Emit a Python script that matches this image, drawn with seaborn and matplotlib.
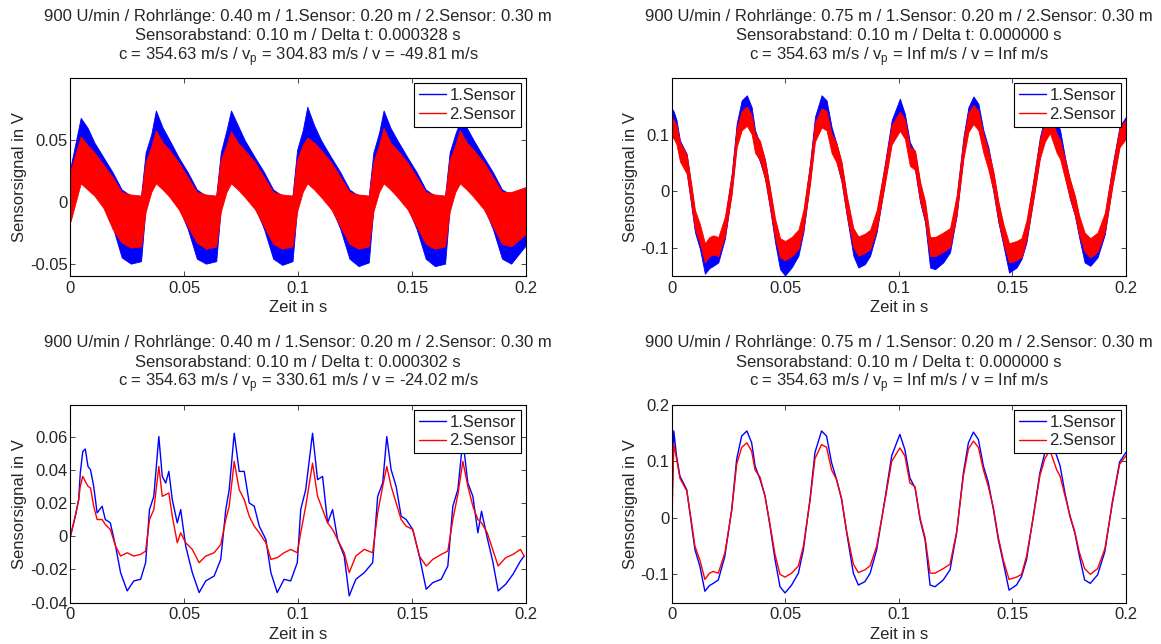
"""
Sensor signals of the two microphones, 2x2 comparison (MATLAB-style figure).
Top row: raw (noisy) signals drawn as min/max bands, bottom row: filtered signals.
"""
import matplotlib
matplotlib.use("Agg")
import matplotlib.pyplot as plt  # noqa: E402
from matplotlib.lines import Line2D  # noqa: E402
import seaborn as sns  # noqa: E402

BLUE = (0, 0, 1)
RED = (1, 0, 0)

# ---------------- shared text ----------------
sensor_labels = ["1.Sensor", "2.Sensor"]
x_label = "Zeit in s"
y_label = "Sensorsignal in V"
x_ticks = [0, 0.05, 0.1, 0.15, 0.2]
x_ticklabels = ["0", "0.05", "0.1", "0.15", "0.2"]

title_tl = ["900 U/min / Rohrlänge: 0.40 m / 1.Sensor: 0.20 m / 2.Sensor: 0.30 m",
            "Sensorabstand: 0.10 m / Delta t: 0.000328 s",
            r"c = 354.63 m/s / v$_\mathregular{p}$ = 304.83 m/s / v = -49.81 m/s"]
title_tr = ["900 U/min / Rohrlänge: 0.75 m / 1.Sensor: 0.20 m / 2.Sensor: 0.30 m",
            "Sensorabstand: 0.10 m / Delta t: 0.000000 s",
            r"c = 354.63 m/s / v$_\mathregular{p}$ = Inf m/s / v = Inf m/s"]
title_bl = ["900 U/min / Rohrlänge: 0.40 m / 1.Sensor: 0.20 m / 2.Sensor: 0.30 m",
            "Sensorabstand: 0.10 m / Delta t: 0.000302 s",
            r"c = 354.63 m/s / v$_\mathregular{p}$ = 330.61 m/s / v = -24.02 m/s"]
title_br = title_tr

# ---------------- top left: raw signal, 0.40 m (upper / lower noise envelope) ----------------
tl_t = [0,
        0.0045, 0.0075, 0.0105, 0.0145, 0.0185, 0.0225, 0.0265, 0.031, 0.033, 0.0355,
        0.0375, 0.0405, 0.0435, 0.0475, 0.0515, 0.0555, 0.0595, 0.064, 0.066, 0.0685,
        0.0705, 0.0735, 0.0765, 0.081, 0.085, 0.089, 0.093, 0.0975, 0.0995, 0.102,
        0.104, 0.107, 0.110, 0.1145, 0.1185, 0.1225, 0.1265, 0.131, 0.133, 0.1355,
        0.1375, 0.1405, 0.1435, 0.148, 0.152, 0.156, 0.160, 0.1645, 0.1665, 0.169,
        0.171, 0.174, 0.177, 0.1815, 0.1855, 0.1895, 0.1935, 0.2]
tl_s1_hi = [0.028,
            0.068, 0.060, 0.048, 0.036, 0.024, 0.010, 0.005, 0.005, 0.040, 0.055,
            0.074, 0.060, 0.050, 0.036, 0.024, 0.010, 0.005, 0.005, 0.040, 0.058,
            0.074, 0.062, 0.050, 0.036, 0.024, 0.010, 0.005, 0.005, 0.042, 0.058,
            0.077, 0.062, 0.050, 0.036, 0.024, 0.010, 0.005, 0.005, 0.040, 0.056,
            0.074, 0.060, 0.050, 0.036, 0.024, 0.010, 0.005, 0.005, 0.040, 0.055,
            0.065, 0.060, 0.050, 0.036, 0.024, 0.010, 0.006, 0.012]
tl_s1_lo = [0.004,
            0.020, 0.012, 0.007, -0.003, -0.020, -0.045, -0.050, -0.048, -0.004, 0.012,
            0.020, 0.012, 0.006, -0.004, -0.022, -0.046, -0.050, -0.048, -0.005, 0.012,
            0.020, 0.012, 0.006, -0.004, -0.022, -0.046, -0.051, -0.048, -0.005, 0.012,
            0.020, 0.012, 0.006, -0.004, -0.022, -0.046, -0.052, -0.049, -0.005, 0.012,
            0.020, 0.012, 0.006, -0.004, -0.022, -0.046, -0.052, -0.050, -0.005, 0.012,
            0.020, 0.012, 0.006, -0.004, -0.022, -0.046, -0.050, -0.035]
tl_s2_hi = [0.025,
            0.053, 0.046, 0.040, 0.030, 0.020, 0.008, 0.006, 0.005, 0.032, 0.045,
            0.058, 0.048, 0.042, 0.032, 0.020, 0.008, 0.006, 0.005, 0.034, 0.046,
            0.057, 0.048, 0.042, 0.032, 0.020, 0.008, 0.006, 0.005, 0.034, 0.046,
            0.052, 0.048, 0.042, 0.032, 0.020, 0.008, 0.006, 0.005, 0.032, 0.046,
            0.060, 0.048, 0.042, 0.032, 0.020, 0.008, 0.006, 0.005, 0.034, 0.046,
            0.058, 0.048, 0.042, 0.032, 0.020, 0.008, 0.008, 0.012]
tl_s2_lo = [-0.016,
            0.015, 0.010, 0.005, -0.005, -0.022, -0.033, -0.037, -0.036, -0.008, 0.008,
            0.015, 0.010, 0.004, -0.006, -0.020, -0.033, -0.038, -0.036, -0.008, 0.008,
            0.015, 0.010, 0.004, -0.006, -0.020, -0.034, -0.038, -0.036, -0.008, 0.008,
            0.015, 0.010, 0.004, -0.006, -0.020, -0.034, -0.038, -0.036, -0.008, 0.008,
            0.015, 0.010, 0.004, -0.006, -0.020, -0.034, -0.038, -0.036, -0.008, 0.008,
            0.015, 0.010, 0.004, -0.006, -0.020, -0.034, -0.036, -0.026]

# ---------------- bottom right: filtered signal, 0.75 m ----------------
br_t = [0.0, 0.0008, 0.002, 0.0035, 0.0065, 0.0087, 0.0101, 0.0123, 0.0145, 0.0165,
        0.0182, 0.0204, 0.0233, 0.0263, 0.0285, 0.0307, 0.033, 0.0351, 0.0366, 0.0388,
        0.041, 0.0432, 0.0454, 0.0476, 0.0498, 0.0527, 0.0557, 0.0579, 0.0608, 0.063,
        0.0659, 0.0681, 0.0703, 0.0725, 0.0747, 0.077, 0.0799, 0.0821, 0.085, 0.0873,
        0.0902, 0.0938, 0.0968, 0.1004, 0.1026, 0.1048, 0.1071, 0.1093, 0.1115, 0.1137,
        0.1159, 0.1195, 0.1225, 0.1254, 0.1284, 0.1306, 0.1328, 0.135, 0.1372, 0.1394,
        0.1416, 0.1438, 0.146, 0.1485, 0.1518, 0.154, 0.1562, 0.1592, 0.1621, 0.1643,
        0.1665, 0.1695, 0.171, 0.1731, 0.1753, 0.1775, 0.1794, 0.1818, 0.1843, 0.1875,
        0.1907, 0.194, 0.1972, 0.2]
br_s1 = [0.03, 0.154, 0.11, 0.074, 0.05, -0.015, -0.056, -0.086, -0.13, -0.12,
         -0.116, -0.11, -0.068, 0.015, 0.104, 0.145, 0.154, 0.133, 0.092, 0.068,
         0.039, -0.015, -0.074, -0.122, -0.133, -0.119, -0.098, -0.056, 0.033, 0.116,
         0.154, 0.145, 0.098, 0.068, 0.033, -0.027, -0.098, -0.119, -0.113, -0.098,
         -0.056, 0.033, 0.11, 0.148, 0.121, 0.071, 0.053, -0.003, -0.039, -0.119,
         -0.122, -0.11, -0.092, -0.027, 0.08, 0.133, 0.152, 0.139, 0.092, 0.062,
         0.015, -0.039, -0.08, -0.128, -0.119, -0.104, -0.074, 0.003, 0.08, 0.116,
         0.14, 0.11, 0.092, 0.045, 0.003, -0.027, -0.066, -0.11, -0.116, -0.101,
         -0.06, 0.028, 0.099, 0.116]
br_s2 = [0.0, 0.13, 0.105, 0.07, 0.048, -0.01, -0.05, -0.075, -0.109, -0.098,
         -0.095, -0.098, -0.062, 0.012, 0.095, 0.125, 0.133, 0.118, 0.085, 0.072,
         0.038, -0.012, -0.065, -0.1, -0.105, -0.098, -0.085, -0.05, 0.03, 0.105,
         0.13, 0.125, 0.085, 0.068, 0.035, -0.025, -0.082, -0.097, -0.092, -0.085,
         -0.05, 0.03, 0.1, 0.124, 0.11, 0.062, 0.055, 0.0, -0.035, -0.098,
         -0.098, -0.09, -0.082, -0.025, 0.075, 0.122, 0.136, 0.125, 0.085, 0.055,
         0.018, -0.035, -0.075, -0.109, -0.105, -0.1, -0.068, 0.002, 0.075, 0.105,
         0.12, 0.085, 0.074, 0.04, 0.005, -0.025, -0.06, -0.09, -0.1, -0.09,
         -0.055, 0.025, 0.095, 0.11]

# ---------------- top right: raw signal, 0.75 m (same sampling instants as bottom right) ----------------
tr_t = br_t
tr_s1_hi = [0.146, 0.141, 0.126, 0.090, 0.066, 0.001, -0.040, -0.070, -0.114, -0.104,
            -0.100, -0.094, -0.052, 0.031, 0.120, 0.161, 0.170, 0.149, 0.108, 0.084,
            0.055, 0.001, -0.058, -0.106, -0.117, -0.103, -0.082, -0.040, 0.049, 0.132,
            0.170, 0.161, 0.114, 0.084, 0.049, -0.011, -0.082, -0.103, -0.097, -0.082,
            -0.040, 0.049, 0.126, 0.164, 0.137, 0.087, 0.069, 0.013, -0.023, -0.103,
            -0.106, -0.094, -0.076, -0.011, 0.096, 0.149, 0.168, 0.155, 0.108, 0.078,
            0.031, -0.023, -0.064, -0.112, -0.103, -0.088, -0.058, 0.019, 0.096, 0.132,
            0.156, 0.126, 0.108, 0.061, 0.019, -0.011, -0.050, -0.094, -0.100, -0.085,
            -0.044, 0.044, 0.115, 0.132]
tr_s1_lo = [0.114, 0.109, 0.094, 0.058, 0.034, -0.031, -0.072, -0.102, -0.146, -0.136,
            -0.132, -0.126, -0.084, -0.001, 0.088, 0.129, 0.138, 0.117, 0.076, 0.052,
            0.023, -0.031, -0.090, -0.138, -0.149, -0.135, -0.114, -0.072, 0.017, 0.100,
            0.138, 0.129, 0.082, 0.052, 0.017, -0.043, -0.114, -0.135, -0.129, -0.114,
            -0.072, 0.017, 0.094, 0.132, 0.105, 0.055, 0.037, -0.019, -0.055, -0.135,
            -0.138, -0.126, -0.108, -0.043, 0.064, 0.117, 0.136, 0.123, 0.076, 0.046,
            -0.001, -0.055, -0.096, -0.144, -0.135, -0.120, -0.090, -0.013, 0.064, 0.100,
            0.124, 0.094, 0.076, 0.029, -0.013, -0.043, -0.082, -0.126, -0.132, -0.117,
            -0.076, 0.012, 0.083, 0.100]
tr_s2_hi = [0.130, 0.127, 0.117, 0.087, 0.065, 0.007, -0.033, -0.058, -0.092, -0.081,
            -0.078, -0.081, -0.045, 0.029, 0.112, 0.142, 0.150, 0.135, 0.102, 0.089,
            0.055, 0.005, -0.048, -0.083, -0.088, -0.081, -0.068, -0.033, 0.047, 0.122,
            0.147, 0.142, 0.102, 0.085, 0.052, -0.008, -0.065, -0.080, -0.075, -0.068,
            -0.033, 0.047, 0.117, 0.141, 0.127, 0.079, 0.072, 0.017, -0.018, -0.081,
            -0.081, -0.073, -0.065, -0.008, 0.092, 0.139, 0.153, 0.142, 0.102, 0.072,
            0.035, -0.018, -0.058, -0.092, -0.088, -0.083, -0.051, 0.019, 0.092, 0.122,
            0.137, 0.102, 0.091, 0.057, 0.022, -0.008, -0.043, -0.073, -0.083, -0.073,
            -0.038, 0.042, 0.112, 0.127]
tr_s2_lo = [0.096, 0.093, 0.083, 0.053, 0.031, -0.027, -0.067, -0.092, -0.126, -0.115,
            -0.112, -0.115, -0.079, -0.005, 0.078, 0.108, 0.116, 0.101, 0.068, 0.055,
            0.021, -0.029, -0.082, -0.117, -0.122, -0.115, -0.102, -0.067, 0.013, 0.088,
            0.113, 0.108, 0.068, 0.051, 0.018, -0.042, -0.099, -0.114, -0.109, -0.102,
            -0.067, 0.013, 0.083, 0.107, 0.093, 0.045, 0.038, -0.017, -0.052, -0.115,
            -0.115, -0.107, -0.099, -0.042, 0.058, 0.105, 0.119, 0.108, 0.068, 0.038,
            0.001, -0.052, -0.092, -0.126, -0.122, -0.117, -0.085, -0.015, 0.058, 0.088,
            0.103, 0.068, 0.057, 0.023, -0.012, -0.042, -0.077, -0.107, -0.117, -0.107,
            -0.072, 0.008, 0.078, 0.093]

# ---------------- bottom left: filtered signal, 0.40 m ----------------
bl_t = [0.0, 0.0021, 0.0036, 0.0043, 0.0054, 0.0065, 0.0077, 0.0088, 0.0102, 0.0117,
        0.0139, 0.0153, 0.0175, 0.0198, 0.022, 0.0249, 0.0278, 0.0308, 0.033, 0.0347,
        0.0366, 0.0388, 0.0403, 0.0418, 0.0432, 0.0447, 0.0469, 0.0484, 0.0506, 0.0535,
        0.0565, 0.0594, 0.0631, 0.066, 0.0682, 0.0697, 0.0719, 0.0741, 0.0763, 0.0785,
        0.0807, 0.0829, 0.0858, 0.088, 0.0908, 0.0938, 0.0967, 0.0996, 0.1011, 0.1033,
        0.1063, 0.1085, 0.1107, 0.1129, 0.1151, 0.1173, 0.1202, 0.1224, 0.1253, 0.129,
        0.1327, 0.1349, 0.1371, 0.1389, 0.1408, 0.143, 0.1452, 0.1474, 0.1503, 0.1532,
        0.1562, 0.1591, 0.1628, 0.1657, 0.1679, 0.1701, 0.1723, 0.1745, 0.1767, 0.1789,
        0.1805, 0.183, 0.1854, 0.1878, 0.1911, 0.1943, 0.1976, 0.1992]
bl_s1 = [0.0, 0.012, 0.022, 0.038, 0.051, 0.0525, 0.042, 0.040, 0.030, 0.014,
         0.018, 0.010, 0.008, -0.006, -0.022, -0.033, -0.027, -0.026, -0.016, 0.016,
         0.024, 0.060, 0.036, 0.032, 0.039, 0.022, 0.008, 0.016, -0.006, -0.022,
         -0.034, -0.027, -0.024, -0.014, 0.016, 0.028, 0.062, 0.039, 0.039, 0.020,
         0.018, 0.006, -0.002, -0.022, -0.034, -0.026, -0.027, -0.016, 0.016, 0.028,
         0.062, 0.034, 0.036, 0.008, 0.016, -0.002, -0.012, -0.036, -0.026, -0.022,
         -0.016, 0.024, 0.032, 0.060, 0.040, 0.030, 0.012, 0.010, 0.004, -0.012,
         -0.032, -0.028, -0.026, -0.018, 0.018, 0.028, 0.058, 0.032, 0.024, 0.002,
         0.015, -0.001, -0.015, -0.033, -0.029, -0.023, -0.015, -0.012]
bl_s2 = [0.0, 0.012, 0.022, 0.030, 0.036, 0.033, 0.030, 0.029, 0.018, 0.010,
         0.010, 0.007, 0.004, -0.006, -0.012, -0.010, -0.012, -0.011, -0.009, 0.010,
         0.016, 0.042, 0.024, 0.025, 0.026, 0.012, -0.004, 0.002, -0.004, -0.008,
         -0.016, -0.012, -0.010, -0.005, 0.010, 0.018, 0.045, 0.028, 0.022, 0.012,
         0.006, 0.002, -0.004, -0.014, -0.013, -0.010, -0.008, -0.010, 0.002, 0.018,
         0.044, 0.024, 0.016, 0.008, 0.004, -0.002, -0.010, -0.022, -0.012, -0.008,
         -0.010, 0.014, 0.030, 0.042, 0.030, 0.020, 0.010, 0.006, 0.004, -0.012,
         -0.018, -0.014, -0.011, -0.009, 0.010, 0.025, 0.045, 0.030, 0.018, 0.010,
         0.008, 0.002, -0.008, -0.018, -0.013, -0.011, -0.008, -0.012]

# ---------------- style ----------------
sns.set_theme(style="ticks")
plt.rcParams["font.family"] = ["Liberation Sans", "DejaVu Sans"]
plt.rcParams.update({
    "font.size": 12,
    "axes.labelsize": 12,
    "axes.unicode_minus": False,
    "mathtext.fontset": "custom",
    "mathtext.rm": "Liberation Sans",
    "xtick.direction": "in", "ytick.direction": "in",
    "xtick.top": True, "ytick.right": True,
    "xtick.major.size": 3.5, "ytick.major.size": 3.5,
    "xtick.major.width": 0.6, "ytick.major.width": 0.6,
    "xtick.major.pad": 3.5, "ytick.major.pad": 2,
    "xtick.labelsize": 12, "ytick.labelsize": 12,
    "axes.linewidth": 0.8, "axes.edgecolor": "black",
})

fig = plt.figure(figsize=(11.61, 6.44), dpi=100)
ax_tl = fig.add_axes([0.0607, 0.5714, 0.3923, 0.3070])
ax_tr = fig.add_axes([0.5788, 0.5714, 0.3910, 0.3070])
ax_bl = fig.add_axes([0.0607, 0.0644, 0.3923, 0.3067])
ax_br = fig.add_axes([0.5788, 0.0644, 0.3910, 0.3067])


def band(ax, t, lo, hi, color):
    """Noisy raw signal shown as its min/max envelope."""
    ax.fill_between(t, lo, hi, color=color, linewidth=0.6, edgecolor=color)


def line(ax, t, v, color):
    sns.lineplot(x=t, y=v, ax=ax, color=color, linewidth=1.0,
                 estimator=None, sort=False, legend=False)


def finish(ax, title, ylim, yticks, yticklabels):
    ax.set_xlim(0, 0.2)
    ax.set_ylim(*ylim)
    ax.set_xticks(x_ticks, x_ticklabels)
    ax.set_yticks(yticks, yticklabels)
    ax.set_xlabel(x_label, labelpad=3)
    ax.set_ylabel(y_label, labelpad=2)
    # three title lines, baselines placed like the MATLAB original
    for txt, off in zip(title, (41.5, 27.5, 13.5)):
        ax.annotate(txt, xy=(0.5, 1), xycoords="axes fraction", xytext=(0, off),
                    textcoords="offset points", ha="center", va="baseline", fontsize=12)
    handles = [Line2D([], [], color=BLUE, lw=1), Line2D([], [], color=RED, lw=1)]
    leg = ax.legend(handles, sensor_labels, loc="upper right", fancybox=False,
                    framealpha=1, edgecolor="black", handlelength=1.6,
                    handletextpad=0.2, borderpad=0.3, labelspacing=0.2,
                    borderaxespad=0.3, fontsize=12)
    leg.get_frame().set_linewidth(0.8)


band(ax_tl, tl_t, tl_s1_lo, tl_s1_hi, BLUE)
band(ax_tl, tl_t, tl_s2_lo, tl_s2_hi, RED)
finish(ax_tl, title_tl, (-0.06, 0.1), [-0.05, 0, 0.05], ["-0.05", "0", "0.05"])

band(ax_tr, tr_t, tr_s1_lo, tr_s1_hi, BLUE)
band(ax_tr, tr_t, tr_s2_lo, tr_s2_hi, RED)
finish(ax_tr, title_tr, (-0.15, 0.2), [-0.1, 0, 0.1], ["-0.1", "0", "0.1"])

line(ax_bl, bl_t, bl_s1, BLUE)
line(ax_bl, bl_t, bl_s2, RED)
finish(ax_bl, title_bl, (-0.04, 0.079), [-0.04, -0.02, 0, 0.02, 0.04, 0.06],
       ["-0.04", "-0.02", "0", "0.02", "0.04", "0.06"])

line(ax_br, br_t, br_s1, BLUE)
line(ax_br, br_t, br_s2, RED)
finish(ax_br, title_br, (-0.15, 0.2), [-0.1, 0, 0.1, 0.2], ["-0.1", "0", "0.1", "0.2"])

fig.savefig("out.png", dpi=100)
plt.close(fig)
